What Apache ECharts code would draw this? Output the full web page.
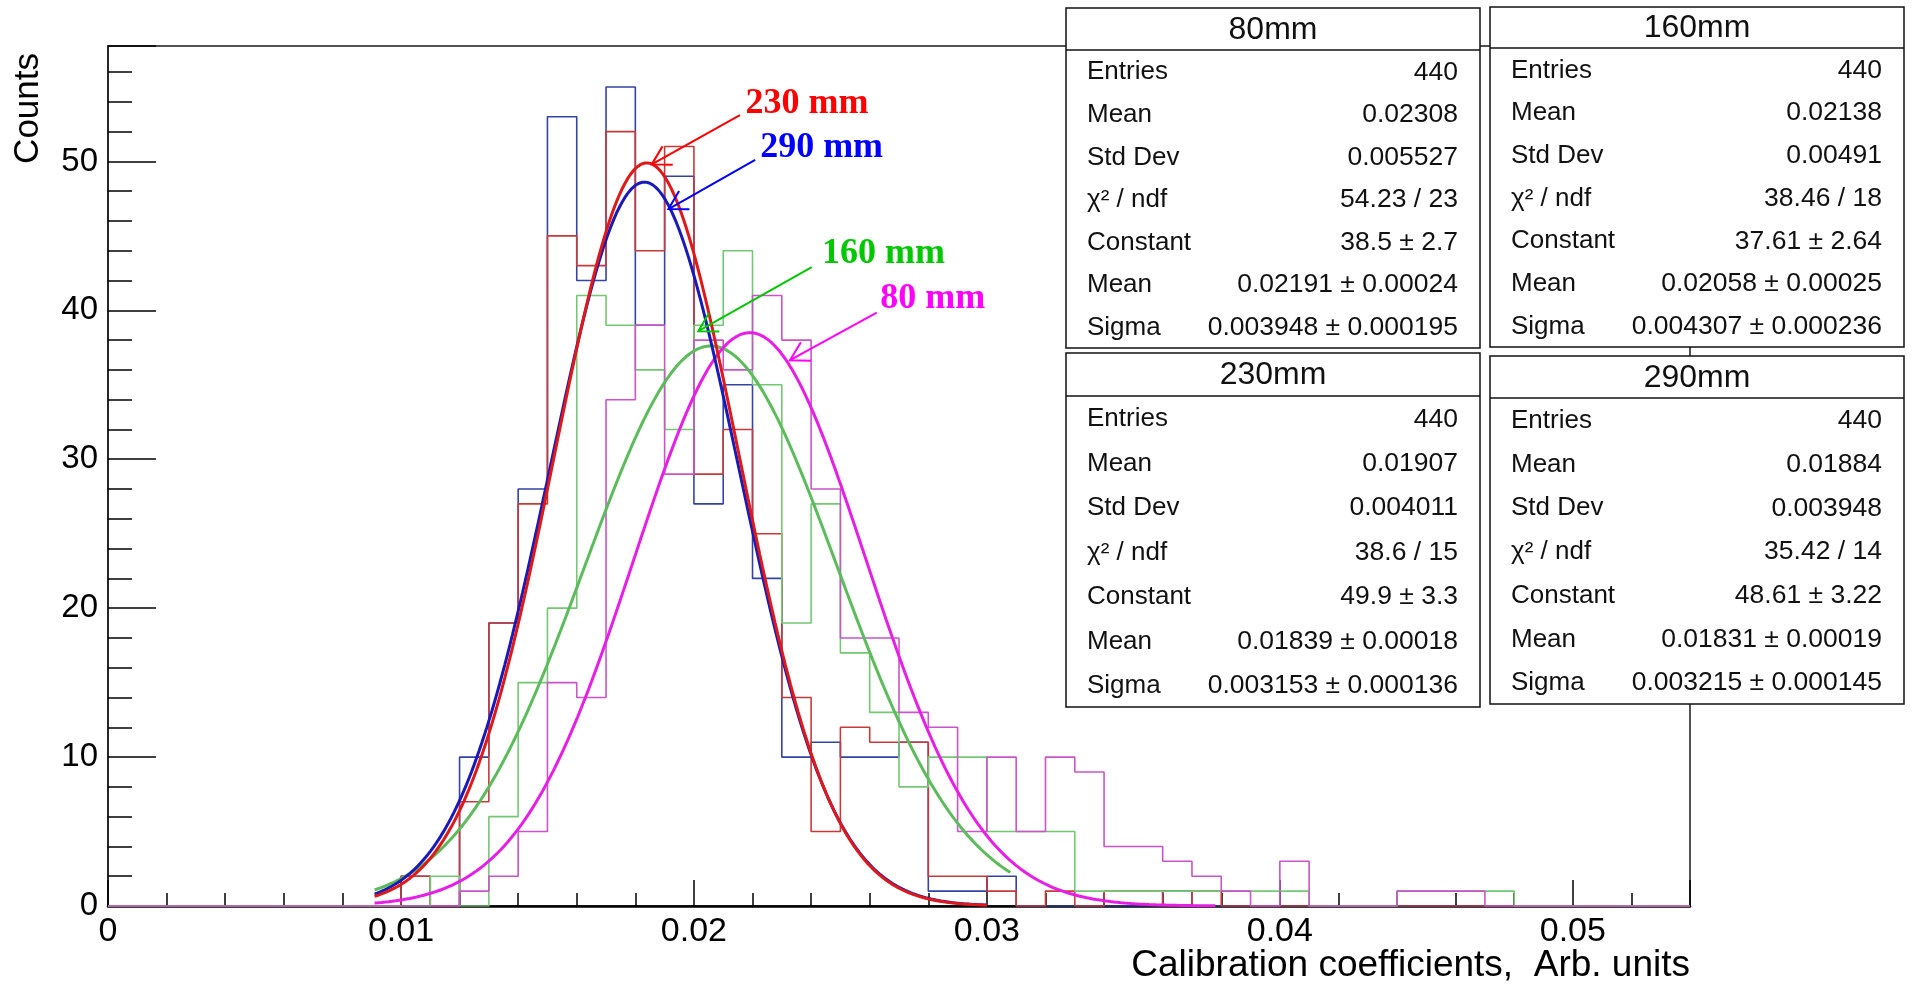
<!DOCTYPE html>
<html>
<head>
<meta charset="utf-8">
<title>Calibration coefficients</title>
<script src="https://cdn.jsdelivr.net/npm/echarts@6.0.0/dist/echarts.min.js"></script>
<style>
  html, body { margin: 0; padding: 0; background: #ffffff; }
  #chart { width: 1930px; height: 988px; }
</style>
</head>
<body>
<div id="chart"></div>
<script>
// ---------------- binning and axis ranges ----------------
const binWidth = 0.001;
const xMin = 0;
const xMax = 0.054;
const yMax = 57.75;

// ---------------- tick labels ----------------
const xTickValues = [0, 0.01, 0.02, 0.03, 0.04, 0.05];
const xTickLabels = ['0', '0.01', '0.02', '0.03', '0.04', '0.05'];
const yTickValues = [0, 10, 20, 30, 40, 50];
const yTickLabels = ['0', '10', '20', '30', '40', '50'];

// ---------------- counts per bin, bin k = [k*0.001, (k+1)*0.001) ----------------
const counts80 = [
  0, 0, 0, 0, 0, 0, 0, 0, 0, 0,
  0, 0, 1, 2, 5, 15, 14, 34, 39, 29,
  38, 36, 41, 38, 28, 18, 18, 13, 12, 5,
  10, 5, 10, 9, 4, 4, 3, 2, 1, 0,
  3, 0, 0, 0, 1, 1, 1, 0, 0, 0,
  0, 0, 0, 0
];
const counts160 = [
  0, 0, 0, 0, 0, 0, 0, 0, 0, 0,
  0, 2, 0, 6, 15, 20, 41, 39, 36, 32,
  39, 44, 35, 19, 27, 17, 13, 8, 10, 10,
  5, 5, 5, 1, 1, 1, 1, 1, 1, 1,
  1, 0, 0, 0, 1, 1, 1, 1, 0, 0,
  0, 0, 0, 0
];
const counts230 = [
  0, 0, 0, 0, 0, 0, 0, 0, 0, 0,
  2, 0, 7, 19, 27, 45, 43, 52, 44, 51,
  29, 32, 25, 14, 5, 12, 11, 11, 2, 2,
  1, 0, 1, 0, 1, 1, 0, 1, 0, 0,
  0, 0, 0, 0, 0, 0, 0, 0, 0, 0,
  0, 0, 0, 0
];
const counts290 = [
  0, 0, 0, 0, 0, 0, 0, 0, 0, 0,
  2, 0, 10, 19, 28, 53, 42, 55, 39, 49,
  27, 35, 22, 10, 11, 10, 10, 11, 1, 1,
  2, 0, 0, 0, 0, 0, 1, 0, 0, 0,
  0, 0, 0, 0, 0, 0, 0, 0, 0, 0,
  0, 0, 0, 0
];

// ---------------- Gaussian fit results (order: 80, 160, 230, 290 mm) ----------------
const fitNames    = ['80mm', '160mm', '230mm', '290mm'];
const fitConstant = [38.5, 37.61, 49.9, 48.61];
const fitMean     = [0.02191, 0.02058, 0.01839, 0.01831];
const fitSigma    = [0.003948, 0.004307, 0.003153, 0.003215];
const fitFrom     = [0.0091, 0.0091, 0.0091, 0.0091];
const fitTo       = [0.0378, 0.0308, 0.0300, 0.0300];

// ---------------- statistics box contents ----------------
const statLabels = ['Entries', 'Mean', 'Std Dev', 'χ² / ndf', 'Constant', 'Mean', 'Sigma'];
const stats80  = ['440', '0.02308', '0.005527', '54.23 / 23', '38.5 ± 2.7',   '0.02191 ± 0.00024', '0.003948 ± 0.000195'];
const stats160 = ['440', '0.02138', '0.00491',  '38.46 / 18', '37.61 ± 2.64', '0.02058 ± 0.00025', '0.004307 ± 0.000236'];
const stats230 = ['440', '0.01907', '0.004011', '38.6 / 15',  '49.9 ± 3.3',   '0.01839 ± 0.00018', '0.003153 ± 0.000136'];
const stats290 = ['440', '0.01884', '0.003948', '35.42 / 14', '48.61 ± 3.22', '0.01831 ± 0.00019', '0.003215 ± 0.000145'];

// ---------------- axis titles and curve annotations ----------------
const xTitle = 'Calibration coefficients,  Arb. units';
const yTitle = 'Counts';
const annotationTexts = ['230 mm', '290 mm', '160 mm', '80 mm'];

// =====================================================================
const FONT = "'Liberation Sans', Arial, Helvetica, sans-serif";
const SERIF = "'Liberation Serif', 'Times New Roman', serif";

// outline of a histogram: one point per left bin edge plus the closing edge
function histPoints(counts) {
  const pts = counts.map((c, k) => [+(xMin + k * binWidth).toFixed(4), c]);
  pts.push([xMax, counts[counts.length - 1]]);
  return pts;
}

// fitted Gaussian evaluated over its fit range
function fitPoints(k) {
  const n = 240, pts = [];
  const a = fitFrom[k], b = fitTo[k];
  for (let j = 0; j <= n; j++) {
    const x = a + (b - a) * j / n;
    const z = (x - fitMean[k]) / fitSigma[k];
    pts.push([x, fitConstant[k] * Math.exp(-0.5 * z * z)]);
  }
  return pts;
}

function fmtX(v) {
  const k = xTickValues.findIndex(t => Math.abs(t - v) < 1e-9);
  return k >= 0 ? xTickLabels[k] : '';
}
function fmtY(v) {
  const k = yTickValues.findIndex(t => Math.abs(t - v) < 1e-9);
  return k >= 0 ? yTickLabels[k] : '';
}

function histSeries(name, counts, color) {
  return {
    name: name, type: 'line', xAxisIndex: 0, yAxisIndex: 0,
    data: histPoints(counts), step: 'end', symbol: 'none', showSymbol: false,
    lineStyle: { color: color, width: 1.6 }, z: 3, clip: true, silent: true
  };
}
function fitSeries(k, color) {
  return {
    name: fitNames[k] + ' fit', type: 'line', xAxisIndex: 0, yAxisIndex: 0,
    data: fitPoints(k), smooth: false, symbol: 'none', showSymbol: false,
    lineStyle: { color: color, width: 3 }, z: 4, clip: true, silent: true
  };
}

const tickStyle = { color: '#000', width: 1.5 };

const chart = echarts.init(document.getElementById('chart'), null, { renderer: 'canvas' });

chart.setOption({
  animation: false,
  backgroundColor: '#ffffff',
  grid: {
    left: 108, right: 240, top: 46, bottom: 82,
    show: true, borderColor: '#1a1a1a', borderWidth: 1.5,
    backgroundColor: 'transparent', containLabel: false, outerBoundsMode: 'none'
  },
  xAxis: [
    {
      type: 'value', min: xMin, max: xMax, interval: 0.01, position: 'bottom',
      axisLine: { show: true, onZero: false, lineStyle: { color: '#000', width: 2.5 } },
      axisTick: { show: true, inside: true, length: 26, lineStyle: tickStyle },
      axisLabel: { show: true, margin: 9, color: '#000', fontSize: 34, fontFamily: FONT, formatter: fmtX },
      splitLine: { show: false }
    },
    {
      type: 'value', min: xMin, max: xMax, interval: 0.002, position: 'bottom',
      axisLine: { show: false },
      axisTick: { show: true, inside: true, length: 13, lineStyle: tickStyle },
      axisLabel: { show: false }, splitLine: { show: false }
    }
  ],
  yAxis: [
    {
      type: 'value', min: 0, max: yMax, interval: 10, position: 'left',
      axisLine: { show: true, onZero: false, lineStyle: { color: '#1a1a1a', width: 1.5 } },
      axisTick: { show: true, inside: true, length: 48, lineStyle: tickStyle },
      axisLabel: { show: true, margin: 10, color: '#000', fontSize: 33, fontFamily: FONT, formatter: fmtY },
      splitLine: { show: false }
    },
    {
      type: 'value', min: 0, max: yMax, interval: 2, position: 'left',
      axisLine: { show: false },
      axisTick: { show: true, inside: true, length: 24, lineStyle: tickStyle },
      axisLabel: { show: false }, splitLine: { show: false }
    }
  ],
  series: [
    histSeries('290mm', counts290, '#3443a6'),
    histSeries('230mm', counts230, '#c83a3a'),
    histSeries('160mm', counts160, '#74c874'),
    histSeries('80mm',  counts80,  '#c955c9'),
    fitSeries(1, '#5cbc5c'),
    fitSeries(0, '#e61ee6'),
    fitSeries(3, '#1a1ab8'),
    fitSeries(2, '#e01818')
  ]
});

// ---------------- overlays: stat boxes, titles, arrows ----------------
const graphics = [];

function statBox(title, values, bx, by, bw, bh, th) {
  graphics.push({
    type: 'rect', z: 100,
    shape: { x: bx, y: by, width: bw, height: bh },
    style: { fill: '#ffffff', stroke: '#111', lineWidth: 1.5 }
  });
  graphics.push({
    type: 'line', z: 101,
    shape: { x1: bx, y1: by + th, x2: bx + bw, y2: by + th },
    style: { stroke: '#111', lineWidth: 1.5 }
  });
  graphics.push({
    type: 'text', z: 102, x: bx + bw / 2, y: by + th / 2 + 1,
    style: { text: title, fill: '#111', font: '32px ' + FONT, textAlign: 'center', textVerticalAlign: 'middle' }
  });
  const rowH = (bh - th) / statLabels.length;
  statLabels.forEach((lab, r) => {
    const cy = by + th + rowH * (r + 0.5) + 1;
    graphics.push({
      type: 'text', z: 102, x: bx + 21, y: cy,
      style: { text: lab, fill: '#111', font: '26px ' + FONT, textAlign: 'left', textVerticalAlign: 'middle' }
    });
    graphics.push({
      type: 'text', z: 102, x: bx + bw - 22, y: cy,
      style: { text: values[r], fill: '#111', font: '26.5px ' + FONT, textAlign: 'right', textVerticalAlign: 'middle' }
    });
  });
}

statBox(fitNames[0], stats80,  1066,   8, 414, 340, 42);
statBox(fitNames[1], stats160, 1490,   7, 414, 340, 41);
statBox(fitNames[2], stats230, 1066, 353, 414, 354, 43);
statBox(fitNames[3], stats290, 1490, 356, 414, 348, 42);

// axis titles
graphics.push({
  type: 'text', z: 50, x: 28, y: 53, rotation: Math.PI / 2,
  style: { text: yTitle, fill: '#000', font: '35px ' + FONT, textAlign: 'right', textVerticalAlign: 'middle' }
});
graphics.push({
  type: 'text', z: 50, x: 1690, y: 966,
  style: { text: xTitle, fill: '#000', font: '37px ' + FONT, textAlign: 'right', textVerticalAlign: 'middle' }
});

// curve annotations: label anchor, arrow tail and arrow tip in data coordinates
const annotations = [
  { text: annotationTexts[0], color: '#ff0000', label: [0.02176, 53.9], tail: [0.02157, 53.1], tip: [0.01856, 49.8] },
  { text: annotationTexts[1], color: '#0000ff', label: [0.02226, 50.9], tail: [0.02209, 50.1], tip: [0.01913, 46.8] },
  { text: annotationTexts[2], color: '#00c800', label: [0.02437, 43.8], tail: [0.02402, 42.9], tip: [0.02015, 38.6] },
  { text: annotationTexts[3], color: '#ff00ff', label: [0.02636, 40.8], tail: [0.02624, 39.85], tip: [0.02328, 36.65] }
];
const finder = { xAxisIndex: 0, yAxisIndex: 0 };
annotations.forEach(a => {
  const L = chart.convertToPixel(finder, a.label);
  const S = chart.convertToPixel(finder, a.tail);
  const T = chart.convertToPixel(finder, a.tip);
  const dx = S[0] - T[0], dy = S[1] - T[1];
  const len = Math.hypot(dx, dy);
  const ux = dx / len, uy = dy / len;
  const head = 21, ang = Math.PI / 6;
  const rot = (t) => [T[0] + head * (ux * Math.cos(t) - uy * Math.sin(t)),
                      T[1] + head * (ux * Math.sin(t) + uy * Math.cos(t))];
  graphics.push({
    type: 'polyline', z: 60,
    shape: { points: [S, T] },
    style: { stroke: a.color, lineWidth: 2, fill: null }
  });
  graphics.push({
    type: 'polyline', z: 60,
    shape: { points: [rot(ang), T, rot(-ang)] },
    style: { stroke: a.color, lineWidth: 2, fill: null }
  });
  graphics.push({
    type: 'text', z: 61, x: L[0], y: L[1],
    style: { text: a.text, fill: a.color, font: 'bold 36px ' + SERIF, textAlign: 'left', textVerticalAlign: 'middle' }
  });
});

chart.setOption({ graphic: graphics });
</script>
</body>
</html>
